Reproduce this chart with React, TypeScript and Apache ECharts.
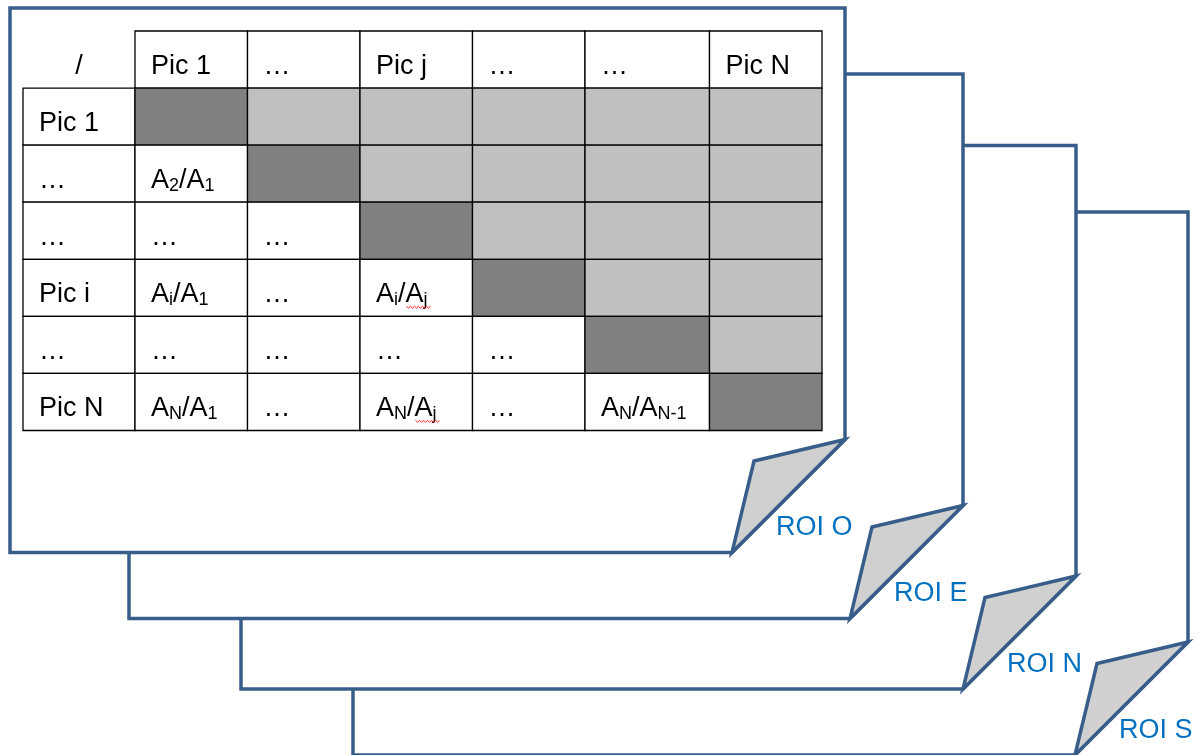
import React, { useEffect, useRef } from "react";
import * as echarts from "echarts";

// ---- content ----
const HEADER = ["/", "Pic 1", "…", "Pic j", "…", "…", "Pic N"];
const ROW_LABELS = ["Pic 1", "…", "…", "Pic i", "…", "Pic N"];
// lower-triangle ratios: [numerator subscript, denominator subscript], null = "…"
const RATIOS: (string[] | null)[][] = [
  [],
  [["2", "1"]],
  [null, null],
  [["i", "1"], null, ["i", "j"]],
  [null, null, null, null],
  [["N", "1"], null, ["N", "j"], null, ["N", "N-1"]],
];
// denominators flagged by the spell checker (red wavy underline)
const SPELL_FLAGGED = ["j"];
const ROI_LABELS = ["ROI O", "ROI E", "ROI N", "ROI S"];

// ---- layout ----
const COL_WIDTHS = [112, 112.5, 112.5, 112.5, 112.5, 124.5, 112.5];
const EDGES = COL_WIDTHS.reduce((a: number[], w) => [...a, a[a.length - 1] + w], [0]);
const PAGES = [
  { L: 10, T: 8, R: 845, B: 552.5 },
  { L: 129, T: 74, R: 963, B: 618.5 },
  { L: 241, T: 145.5, R: 1076, B: 689 },
  { L: 353, T: 212, R: 1188, B: 755 },
];
const FONT = "'Liberation Sans', Arial, sans-serif";
const BORDER = "#385D8A";
const MAIN_SIZE = 27;
const SUB_SIZE = 18;

type Cell = { col: number; row: number; kind: string; text: string; ratio: string[] | null };

function fmt(r: string[] | null): string {
  if (!r) return "…";
  return `{b|A}{s|${r[0]}}{b|/A}{s|${r[1]}}`;
}

function buildCells(): Cell[] {
  const cells: Cell[] = [];
  HEADER.forEach((h, c) =>
    cells.push({ col: c, row: 0, kind: c === 0 ? "corner" : "header", text: h, ratio: null })
  );
  ROW_LABELS.forEach((lab, r) => {
    const row = r + 1;
    cells.push({ col: 0, row, kind: "rowhead", text: lab, ratio: null });
    for (let c = 1; c < HEADER.length; c++) {
      if (c < row) {
        const ratio = RATIOS[r][c - 1];
        cells.push({ col: c, row, kind: "ratio", text: fmt(ratio), ratio });
      } else if (c === row) cells.push({ col: c, row, kind: "diag", text: "", ratio: null });
      else cells.push({ col: c, row, kind: "upper", text: "", ratio: null });
    }
  });
  return cells;
}

const measureCtx = typeof document !== "undefined" ? document.createElement("canvas").getContext("2d") : null;
function textWidth(t: string, size: number): number {
  if (!measureCtx) return t.length * size * 0.55;
  measureCtx.font = `${size}px ${FONT}`;
  return measureCtx.measureText(t).width;
}

export default function App() {
  const ref = useRef<HTMLDivElement>(null);
  useEffect(() => {
    if (!ref.current) return;
    const chart = echarts.init(ref.current, null, { renderer: "svg" });
    const cells = buildCells();
    const rich = {
      b: { fontSize: MAIN_SIZE, lineHeight: 30, fontFamily: FONT, color: "#000" },
      s: { fontSize: SUB_SIZE, lineHeight: 23, fontFamily: FONT, color: "#000", verticalAlign: "bottom" },
    };
    const graphic: any[] = [];
    for (let i = PAGES.length - 1; i >= 0; i--) {
      const p = PAGES[i];
      const foldY = p.B - 113;
      const foldX = p.R - 113;
      const z = (PAGES.length - i) * 3;
      graphic.push({
        type: "polygon",
        z,
        shape: { points: [[p.L, p.T], [p.R, p.T], [p.R, foldY], [foldX, p.B], [p.L, p.B]] },
        style: { fill: "#fff", stroke: BORDER, lineWidth: 3.5, lineJoin: "miter" },
      });
      graphic.push({
        type: "polygon",
        z: z + 1,
        shape: { points: [[p.R, foldY], [p.R - 91, p.B - 91.5], [foldX, p.B]] },
        style: { fill: "#D0D0D0", stroke: BORDER, lineWidth: 3.5, lineJoin: "miter" },
      });
      graphic.push({
        type: "text",
        z: z + 2,
        x: p.R - 69,
        y: p.B - 26.5,
        style: { text: ROI_LABELS[i], fontSize: 27, fontFamily: FONT, fill: "#0070C0", verticalAlign: "middle" },
      });
    }
    chart.setOption({
      animation: false,
      grid: { left: 23, top: 31, width: EDGES[EDGES.length - 1], height: 399.5 },
      xAxis: { type: "value", min: 0, max: EDGES[EDGES.length - 1], show: false },
      yAxis: { type: "value", min: 0, max: HEADER.length, inverse: true, show: false },
      graphic,
      series: [
        {
          type: "custom",
          z: 100,
          data: cells.map((c) => [EDGES[c.col], c.row]),
          renderItem: (params: any, api: any) => {
            const cell = cells[params.dataIndex];
            const p0 = api.coord([EDGES[cell.col], cell.row]);
            const p1 = api.coord([EDGES[cell.col + 1], cell.row + 1]);
            const w = p1[0] - p0[0];
            const h = p1[1] - p0[1];
            const children: any[] = [];
            if (cell.kind !== "corner") {
              const fill = cell.kind === "diag" ? "#808080" : cell.kind === "upper" ? "#C0C0C0" : "#FFFFFF";
              children.push({
                type: "rect",
                shape: { x: p0[0], y: p0[1], width: w, height: h },
                style: { fill, stroke: "#000", lineWidth: 1.3 },
              });
            }
            const tx = cell.kind === "corner" ? p0[0] + w / 2 : p0[0] + 16;
            const ty = p0[1] + 33.5;
            if (cell.text) {
              const isRich = cell.text.indexOf("{") >= 0;
              children.push({
                type: "text",
                x: tx,
                y: ty,
                style: {
                  text: isRich ? cell.text : `{b|${cell.text}}`,
                  rich,
                  fontSize: MAIN_SIZE,
                  fontFamily: FONT,
                  fill: "#000",
                  align: cell.kind === "corner" ? "center" : "left",
                  verticalAlign: "middle",
                },
              });
            }
            if (cell.ratio && SPELL_FLAGGED.indexOf(cell.ratio[1]) >= 0) {
              const start = tx + textWidth("A", MAIN_SIZE) + textWidth(cell.ratio[0], SUB_SIZE) + textWidth("/", MAIN_SIZE) + 1;
              const end = start + textWidth("A", MAIN_SIZE) + textWidth(cell.ratio[1], SUB_SIZE) + 2;
              const pts: number[][] = [];
              const yb = ty + 13.5;
              let k = 0;
              for (let x = start; x <= end; x += 2) {
                pts.push([x, yb + (k % 2 === 0 ? 0 : 1.8)]);
                k++;
              }
              children.push({
                type: "polyline",
                shape: { points: pts },
                style: { stroke: "#FF0000", lineWidth: 0.9, fill: null },
              });
            }
            return { type: "group", children };
          },
        },
      ],
    });
    return () => chart.dispose();
  }, []);
  return <div ref={ref} style={{ position: "fixed", left: 0, top: 0, width: 1199, height: 755 }} />;
}
